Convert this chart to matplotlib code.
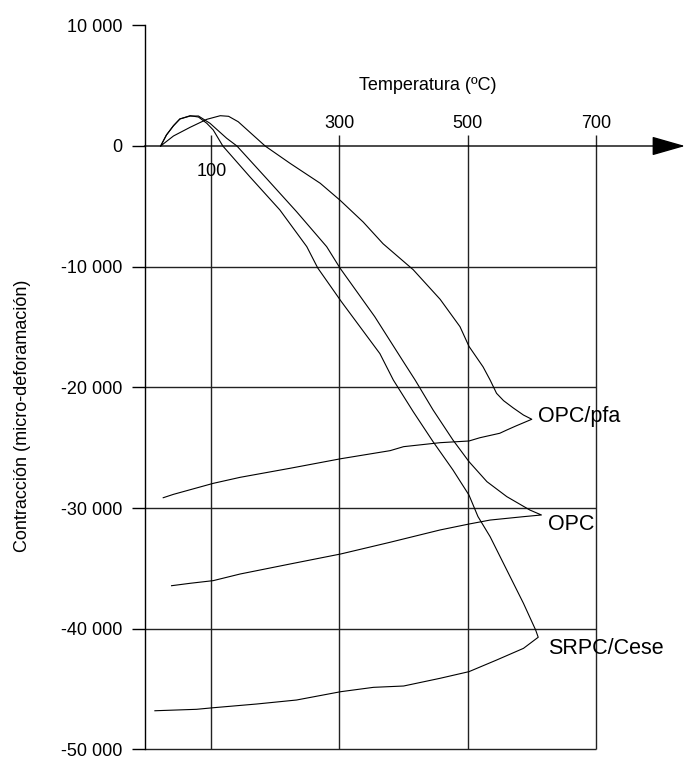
import matplotlib
matplotlib.use("Agg")
import matplotlib.pyplot as plt

plt.rcParams['font.family'] = ['Liberation Sans', 'DejaVu Sans']

# temperatura (C) y contraccion (micro-deformacion)
# SRPC/Cese
srpc_heat_t = [21, 30, 41, 51, 67, 80, 93, 103, 118, 160, 207, 249, 266, 303, 363, 384, 415, 446, 477, 502, 516,
               535, 561, 587, 606, 610]
srpc_heat_v = [0, 910, 1680, 2240, 2510, 2400, 1880, 1330, 0, -2540, -5300, -8340, -10100, -12900, -17200, -19390,
               -22010, -24500, -26840, -28920, -30700, -32370, -35130, -37890, -40100, -40700]
srpc_cool_t = [610, 587, 545, 502, 457, 400, 353, 302, 233, 171, 103, 77, 12]
srpc_cool_v = [-40700, -41620, -42590, -43550, -44100, -44740, -44850, -45210, -45900, -46230, -46540, -46670, -46790]

# OPC
opc_heat_t = [21, 30, 41, 51, 67, 80, 98, 124, 140, 186, 233, 280, 301, 355, 400, 418, 446, 477, 502, 530, 561,
              597, 615]
opc_heat_v = [0, 910, 1680, 2240, 2480, 2485, 1880, 640, 0, -2680, -5440, -8340, -10130, -14140, -17900, -19390,
              -21870, -24360, -26150, -27810, -29050, -30160, -30570]
opc_cool_t = [615, 587, 535, 502, 457, 379, 302, 223, 145, 103, 67, 38]
opc_cool_v = [-30570, -30710, -30990, -31320, -31810, -32830, -33800, -34630, -35460, -36010, -36230, -36430]

# OPC/pfa
pfa_heat_t = [21, 41, 67, 93, 114, 127, 142, 184, 223, 270, 301, 337, 368, 415, 457, 488, 502, 524, 535, 545, 556,
              571, 587, 600]
pfa_heat_v = [0, 830, 1550, 2210, 2510, 2460, 2010, 0, -1440, -3090, -4500, -6300, -8100, -10250, -12700, -14970,
              -16600, -18300, -19390, -20490, -21100, -21700, -22290, -22640]
pfa_cool_t = [600, 575, 561, 550, 519, 502, 457, 400, 379, 302, 223, 145, 103, 88, 41, 25]
pfa_cool_v = [-22640, -23200, -23530, -23800, -24170, -24440, -24580, -24910, -25240, -25910, -26700, -27450,
              -27950, -28170, -28860, -29140]

series_names = ["OPC/pfa", "OPC", "SRPC/Cese"]
name_pos_t = [609, 625, 625]
name_pos_v = [-22370, -31400, -41600]

y_ticks = [10000, 0, -10000, -20000, -30000, -40000, -50000]
y_labels = ["10 000", "0", "-10 000", "-20 000", "-30 000", "-40 000", "-50 000"]
x_ticks = [100, 300, 500, 700]
x_labels = ["100", "300", "500", "700"]

fig = plt.figure(figsize=(6.85, 7.58), dpi=100)
ax = fig.add_axes([144.5 / 685, 8.5 / 758, 540.5 / 685, 724.2 / 758])
ax.set_xlim(-4.2, 839)
ax.set_ylim(-50000, 10000)

for s in ['top', 'right', 'bottom']:
    ax.spines[s].set_visible(False)
ax.spines['left'].set_linewidth(1.0)
ax.spines['left'].set_color('black')

ax.set_yticks(y_ticks)
ax.set_yticklabels(y_labels)
ax.tick_params(axis='y', direction='out', length=9.4, width=1.0, pad=6.5, labelsize=13, colors='black')
ax.set_xticks([])

grid_col = '#222222'
ax.hlines([-10000, -20000, -30000, -40000, -50000], -4.2, 700, colors=grid_col, lw=1.0, clip_on=False)
ax.vlines(x_ticks, -50000, 900, colors=grid_col, lw=1.0, clip_on=False)

# eje x con flecha
ax.annotate('', xy=(839, 0), xytext=(-4.2, 0),
            arrowprops=dict(arrowstyle='-|>,head_length=2.1,head_width=0.6', color='black', lw=1.0,
                            shrinkA=0, shrinkB=0, mutation_scale=10),
            annotation_clip=False)

for t, lab in zip(x_ticks, x_labels):
    if t == 100:
        ax.text(t, -2150, lab, ha='center', va='center', fontsize=13)
    else:
        ax.text(t, 1900, lab, ha='center', va='center', fontsize=13)

ax.text(438, 5050, "Temperatura (ºC)", ha='center', va='center', fontsize=13)
fig.text(23 / 685, 1 - 416 / 758, "Contracción (micro-deforamación)", rotation=90,
         ha='center', va='center', fontsize=13)

curves = [
    (pfa_heat_t + pfa_cool_t[1:], pfa_heat_v + pfa_cool_v[1:]),
    (opc_heat_t + opc_cool_t[1:], opc_heat_v + opc_cool_v[1:]),
    (srpc_heat_t + srpc_cool_t[1:], srpc_heat_v + srpc_cool_v[1:]),
]
for (t, v), name, nt, nv in zip(curves, series_names, name_pos_t, name_pos_v):
    ax.plot(t, v, color='black', lw=0.8, clip_on=False)
    ax.text(nt, nv, name, ha='left', va='center', fontsize=15.5)

fig.savefig("out.png", dpi=100)
